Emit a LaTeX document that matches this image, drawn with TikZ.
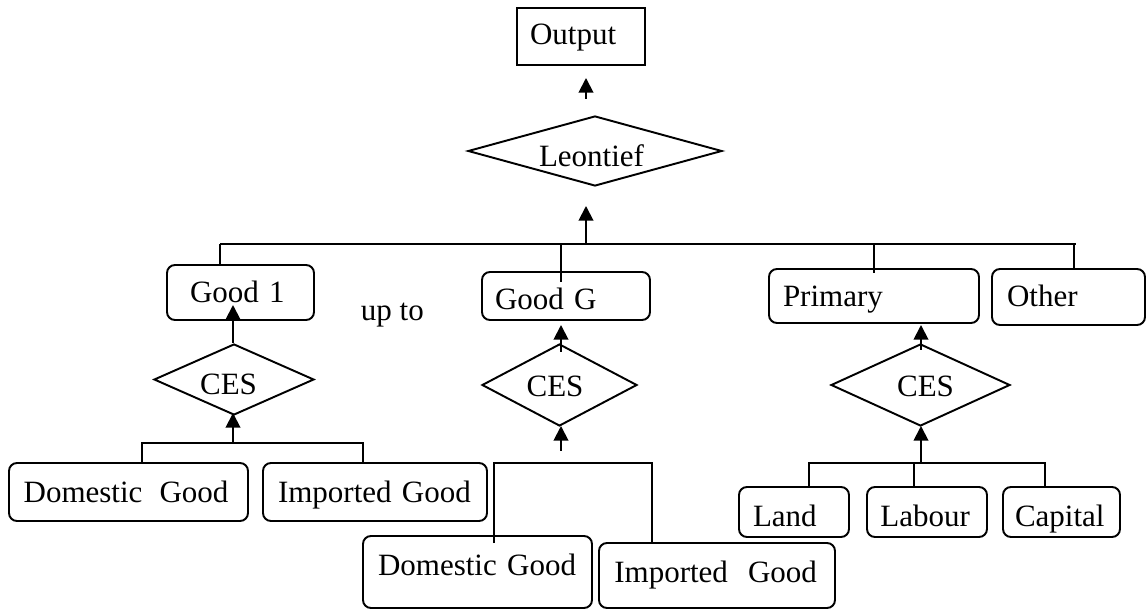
\documentclass[tikz,border=0pt]{standalone}
\usepackage{fontspec}
\setmainfont{Liberation Serif}
\usetikzlibrary{shapes.geometric,arrows.meta}
\begin{document}
\begin{tikzpicture}[x=0.75pt,y=-0.75pt, line width=1.45pt,
  every node/.style={font=\fontsize{23.25pt}{28pt}\selectfont},
  rbox/.style={draw, rounded corners=6pt, align=left, text depth=0pt, inner ysep=0pt},
  sbox/.style={draw, align=left, text depth=0pt, inner ysep=0pt},
  dmd/.style={draw, diamond, inner sep=0pt, text depth=0pt},
  arr/.style={-{Triangle[width=11pt,length=11pt]}}]
\useasboundingbox (0,0) rectangle (1146,609);

% top
\node[sbox, minimum height=42.75pt, inner xsep=9.75pt, text width=76.5pt, text height=12.75pt] (out) at (581,36.5) {Output};
\node[dmd, aspect=3.6, minimum width=190.5pt, minimum height=52.5pt, text height=24pt] (leo) at (595,151) {\hspace*{-5.25pt}Leontief};

% second row
\node[rbox, minimum height=41.25pt, inner xsep=17.25pt, text width=75.75pt, text height=15.75pt] (g1) at (240.5,292.5) {Good 1};
\node[anchor=base west, inner sep=0pt] (upto) at (360,321) {up to};
\node[rbox, minimum height=36pt, inner xsep=9.75pt, text width=106.5pt, text height=21pt] (gg) at (566,296) {Good G};
\node[rbox, minimum height=40.5pt, inner xsep=10.5pt, text width=136.5pt, text height=16.5pt] (prim) at (874,296) {Primary};
\node[rbox, minimum height=42pt, inner xsep=11.25pt, text width=92.25pt, text height=15pt] (oth) at (1068.5,297) {Other};

% CES diamonds
\node[dmd, aspect=2.25, minimum width=120pt, minimum height=53.25pt, text height=23.25pt] (ces1) at (234,379.5) {\hspace*{-8.25pt}CES};
\node[dmd, aspect=1.9, minimum width=116.25pt, minimum height=61.5pt, text height=18pt] (cesg) at (559.5,385) {\hspace*{-6.75pt}CES};
\node[dmd, aspect=2.2, minimum width=134.25pt, minimum height=61.5pt, text height=18pt] (cesp) at (920.5,385) {\hspace*{7.5pt}CES};

% bottom boxes, left
\node[rbox, minimum height=43.5pt, inner xsep=11pt, text width=157.25pt, text height=15pt] (dom1) at (128.5,492) {Domestic\hspace{0.55em}Good};
\node[rbox, minimum height=43.5pt, inner xsep=11.25pt, text width=145.5pt, text height=15pt] (imp1) at (375,492) {Imported Good};
% bottom boxes, middle
\node[rbox, minimum height=54pt, inner xsep=11.25pt, text width=149.25pt, text height=4.5pt] (domg) at (477.5,572) {Domestic Good};
\node[rbox, minimum height=48.75pt, inner xsep=11.5pt, text width=154pt, text height=9.75pt] (impg) at (717,575.5) {Imported\hspace{0.65em}Good};
% bottom boxes, right
\node[rbox, minimum height=37.5pt, inner xsep=10.5pt, text width=61.5pt, text height=21pt] (land) at (794,512) {Land};
\node[rbox, minimum height=37.5pt, inner xsep=10pt, text width=70pt, text height=21pt] (lab) at (927,512) {Labour};
\node[rbox, minimum height=37.5pt, inner xsep=9pt, text width=69.75pt, text height=21pt] (cap) at (1061.5,512) {Capital};

% connectors: top
\coordinate (t1) at (586,99);
\coordinate (t2) at (586,78);
\draw[arr] (t1) -- (t2);
\coordinate (busL) at (220,244);
\coordinate (busR) at (1076,244);
\coordinate (busM) at (586,244);
\coordinate (leoIn) at (586,206);
\draw (busL) -- (busR);
\draw[arr] (busM) -- (leoIn);
\draw (busL) -- (busL |- g1.north);
\coordinate (bG) at (561,244);
\coordinate (bGe) at (561,282);
\draw (bG) -- (bGe);
\coordinate (bP) at (874,244);
\coordinate (bPe) at (874,273);
\draw (bP) -- (bPe);
\coordinate (bO) at (1074,244);
\draw (bO) -- (bO |- oth.north);

% left column
\coordinate (l1) at (233,343);
\coordinate (l2) at (233,305);
\draw[arr] (l1) -- (l2);
\coordinate (l3) at (233,443);
\coordinate (l4) at (233,413);
\draw[arr] (l3) -- (l4);
\coordinate (lbL) at (142,443);
\coordinate (lbR) at (363,443);
\draw (lbL |- dom1.north) -- (lbL) -- (lbR) -- (lbR |- imp1.north);

% middle column
\coordinate (m1) at (561,352);
\coordinate (m2) at (561,325);
\draw[arr] (m1) -- (m2);
\coordinate (m3) at (561,451);
\coordinate (m4) at (561,426);
\draw[arr] (m3) -- (m4);
\coordinate (mbL) at (494,463);
\coordinate (mbR) at (652,463);
\coordinate (mbLe) at (494,543);
\draw (mbLe) -- (mbL) -- (mbR) -- (mbR |- impg.north);

% right column
\coordinate (r1) at (921,350);
\coordinate (r2) at (921,325);
\draw[arr] (r1) -- (r2);
\coordinate (r3) at (921,463);
\coordinate (r4) at (921,426);
\draw[arr] (r3) -- (r4);
\coordinate (rbL) at (809,463);
\coordinate (rbR) at (1045,463);
\coordinate (rbM) at (914,463);
\draw (rbL |- land.north) -- (rbL) -- (rbR) -- (rbR |- cap.north);
\draw (rbM) -- (rbM |- lab.north);
\end{tikzpicture}
\end{document}
